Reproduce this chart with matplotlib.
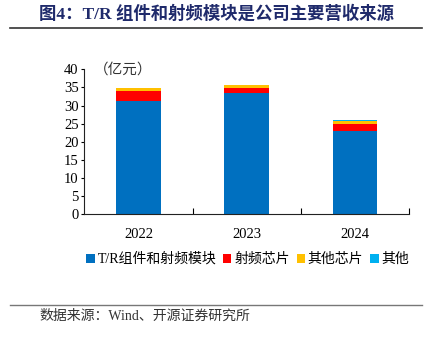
import numpy as np
import matplotlib.pyplot as plt

plt.rcParams['font.family'] = ['Liberation Serif', 'Noto Sans CJK SC']

# 营收构成（亿元）
years = ['2022', '2023', '2024']
tr_module = [31.2, 33.55, 23.1]
rf_chip = [2.75, 1.3, 1.85]
other_chip = [0.9, 0.9, 0.7]
others = [0.1, 0.0, 0.35]

labels = ['T/R组件和射频模块', '射频芯片', '其他芯片', '其他']
colors = ['#0070C0', '#FF0000', '#FFC000', '#00B0F0']
series = [tr_module, rf_chip, other_chip, others]

fig = plt.figure(figsize=(4.33, 3.38), dpi=100)
ax = fig.add_axes([0.1947, 0.366, 0.75, 0.429])

x = np.arange(len(years))
bottom = np.zeros(len(years))
handles = []
for vals, lab, c in zip(series, labels, colors):
    h = ax.bar(x, vals, width=0.41, bottom=bottom, color=c, label=lab)
    handles.append(h)
    bottom += np.array(vals)

ax.set_xlim(-0.5, 2.5)
ax.set_ylim(0, 40)
ax.set_yticks(range(0, 41, 5))
ax.set_xticks(x)
ax.set_xticklabels(years)
ax.set_xticks([0.5, 1.5, 2.5], minor=True)
ax.tick_params(axis='x', which='major', length=0, pad=10, labelsize=10.5)
ax.tick_params(axis='x', which='minor', direction='in', length=4, width=0.8)
ax.tick_params(axis='y', direction='out', length=2, width=0.8, labelsize=10.5, pad=2)
for s in ['top', 'right']:
    ax.spines[s].set_visible(False)
for s in ['left', 'bottom']:
    ax.spines[s].set_linewidth(0.8)
    ax.spines[s].set_color('#222222')

ax.text(0.03, 1.0, '（亿元）', transform=ax.transAxes, fontsize=10.5,
        family=['Noto Sans CJK SC'], va='center', ha='left', color='#333333')

fig.legend(handles=handles, labels=labels, loc='center', bbox_to_anchor=(0.572, 0.233),
           ncol=4, frameon=False, handlelength=0.6, handleheight=0.6,
           handletextpad=0.2, columnspacing=0.5,
           prop={'family': ['Liberation Serif', 'Noto Sans CJK SC'], 'size': 10})

# 标题与来源
fig.text(0.5, 0.958, '图4：T/R 组件和射频模块是公司主要营收来源', ha='center', va='center',
         fontsize=12.5, fontweight='bold', color='#1F2A6B',
         family=['Liberation Serif', 'Noto Sans CJK SC'])
fig.add_artist(plt.Line2D([0.023, 0.975], [0.917, 0.917], color='#333333', lw=1.2))
fig.add_artist(plt.Line2D([0.023, 0.975], [0.098, 0.098], color='#777777', lw=1.0))
fig.text(0.092, 0.064, '数据来源：Wind、开源证券研究所', ha='left', va='center',
         fontsize=10, color='#333333', family=['Liberation Serif', 'Noto Sans CJK SC'])

fig.savefig('out.png', dpi=100)
